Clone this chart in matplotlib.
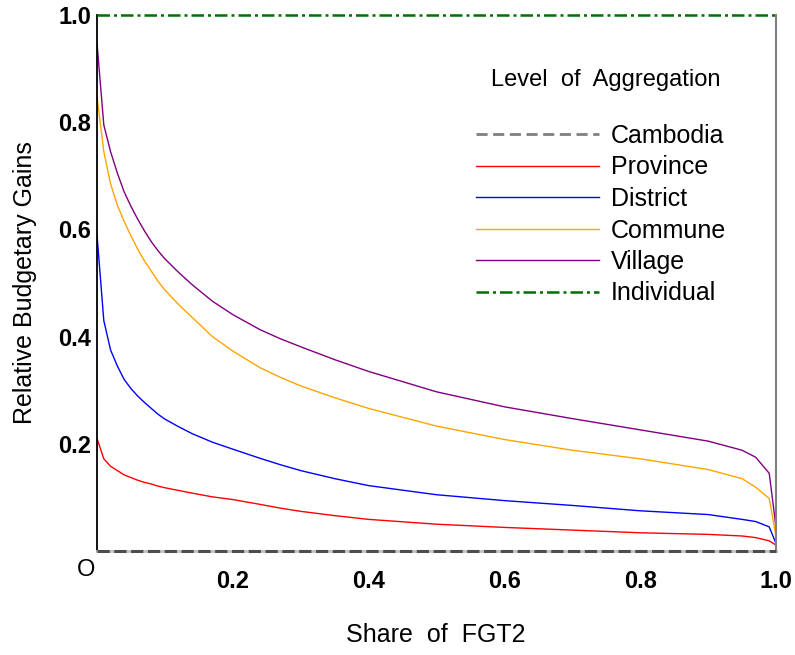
import numpy as np
import matplotlib
matplotlib.use('Agg')
import matplotlib.pyplot as plt
from matplotlib.lines import Line2D

plt.rcParams['font.family'] = ['Liberation Sans', 'DejaVu Sans']

# share of FGT2 (x) and relative budgetary gains per aggregation level
share = [0.0, 0.01, 0.02, 0.03, 0.04, 0.05, 0.06, 0.07, 0.08, 0.09, 0.10,
         0.12, 0.14, 0.17, 0.20, 0.24, 0.27, 0.30, 0.35, 0.40, 0.50, 0.60,
         0.70, 0.80, 0.90, 0.95, 0.97, 0.99, 1.0]

province = [0.210, 0.172, 0.158, 0.150, 0.142, 0.137, 0.132, 0.128, 0.125,
            0.121, 0.118, 0.113, 0.108, 0.101, 0.096, 0.087, 0.080, 0.074,
            0.066, 0.059, 0.050, 0.044, 0.039, 0.034, 0.031, 0.028, 0.025,
            0.019, 0.011]
district = [0.590, 0.430, 0.375, 0.345, 0.320, 0.303, 0.289, 0.277, 0.266,
            0.255, 0.246, 0.232, 0.219, 0.203, 0.190, 0.173, 0.161, 0.150,
            0.135, 0.122, 0.105, 0.094, 0.085, 0.075, 0.068, 0.059, 0.055,
            0.045, 0.014]
commune = [0.848, 0.745, 0.685, 0.645, 0.615, 0.588, 0.563, 0.541, 0.522,
           0.503, 0.487, 0.460, 0.436, 0.400, 0.373, 0.342, 0.324, 0.308,
           0.286, 0.266, 0.233, 0.208, 0.188, 0.172, 0.152, 0.135, 0.119,
           0.098, 0.028]
village = [0.948, 0.795, 0.745, 0.705, 0.670, 0.643, 0.619, 0.597, 0.577,
           0.560, 0.545, 0.520, 0.497, 0.466, 0.441, 0.413, 0.396, 0.381,
           0.357, 0.335, 0.297, 0.269, 0.247, 0.226, 0.205, 0.188, 0.175,
           0.145, 0.045]
cambodia = [0.0] * len(share)
individual = [1.0] * len(share)

x_ticks = [0.2, 0.4, 0.6, 0.8, 1.0]
y_ticks = [0.2, 0.4, 0.6, 0.8, 1.0]

fig = plt.figure(figsize=(7.95, 6.55), dpi=100)
ax = fig.add_axes([97 / 795, 1 - 551 / 655, (776 - 97) / 795, (551 - 15) / 655])

cam_style = dict(color='#808080', linestyle=(0, (4, 2.0)), linewidth=2.0)
ind_style = dict(color='#007000', linestyle=(0, (5, 1.6, 1.2, 1.6)), linewidth=1.8)

ax.plot(share, cambodia, clip_on=False, zorder=4, color='#4d4d4d',
        linestyle=(0, (4, 1.5)), linewidth=2.2)
ax.plot(share, province, color='#ff0000', linewidth=1)
ax.plot(share, district, color='#0000ff', linewidth=1)
ax.plot(share, commune, color='#ffa500', linewidth=1)
ax.plot(share, village, color='#800080', linewidth=1)
ax.plot(share, individual, clip_on=False, zorder=4, **ind_style)

ax.set_xlim(0, 1)
ax.set_ylim(0, 1)

ax.spines['top'].set_visible(False)
ax.spines['bottom'].set_color('#c0c0c0')
ax.spines['bottom'].set_linewidth(2.0)
ax.spines['left'].set_color('black')
ax.spines['left'].set_linewidth(1.3)
ax.spines['right'].set_color('#808080')
ax.spines['right'].set_linewidth(1.5)

ax.set_xticks(x_ticks)
ax.set_xticklabels(['%.1f' % t for t in x_ticks], fontsize=17, fontweight='bold')
ax.set_yticks(y_ticks)
ax.set_yticklabels(['%.1f' % t for t in y_ticks], fontsize=17, fontweight='bold')
ax.tick_params(axis='x', length=0, pad=14)
ax.tick_params(axis='y', length=0, pad=4)

ax.annotate('O', xy=(0, 0), xytext=(-8, -14), textcoords='offset points',
            ha='center', va='center', fontsize=17)

fig.text(436 / 795, 1 - 635 / 655, 'Share  of  FGT2', fontsize=18,
         ha='center', va='center')
fig.text(25 / 795, 1 - 283 / 655, 'Relative Budgetary Gains', fontsize=18,
         ha='center', va='center', rotation=90)

# legend
handles = [
    Line2D([], [], **cam_style),
    Line2D([], [], color='#ff0000', linewidth=1),
    Line2D([], [], color='#0000ff', linewidth=1),
    Line2D([], [], color='#ffa500', linewidth=1),
    Line2D([], [], color='#800080', linewidth=1),
    Line2D([], [], **ind_style),
]
labels = ['Cambodia', 'Province', 'District', 'Commune', 'Village', 'Individual']
fig.legend(handles, labels, loc='upper left',
           bbox_to_anchor=(476 / 795, 1 - 124 / 655), frameon=False,
           fontsize=18, handlelength=4.9, handletextpad=0.5,
           labelspacing=0.30, borderpad=0, borderaxespad=0)
fig.text(606 / 795, 1 - 80 / 655, 'Level  of  Aggregation', fontsize=17,
         ha='center', va='center')

fig.savefig('out.png', dpi=100)
